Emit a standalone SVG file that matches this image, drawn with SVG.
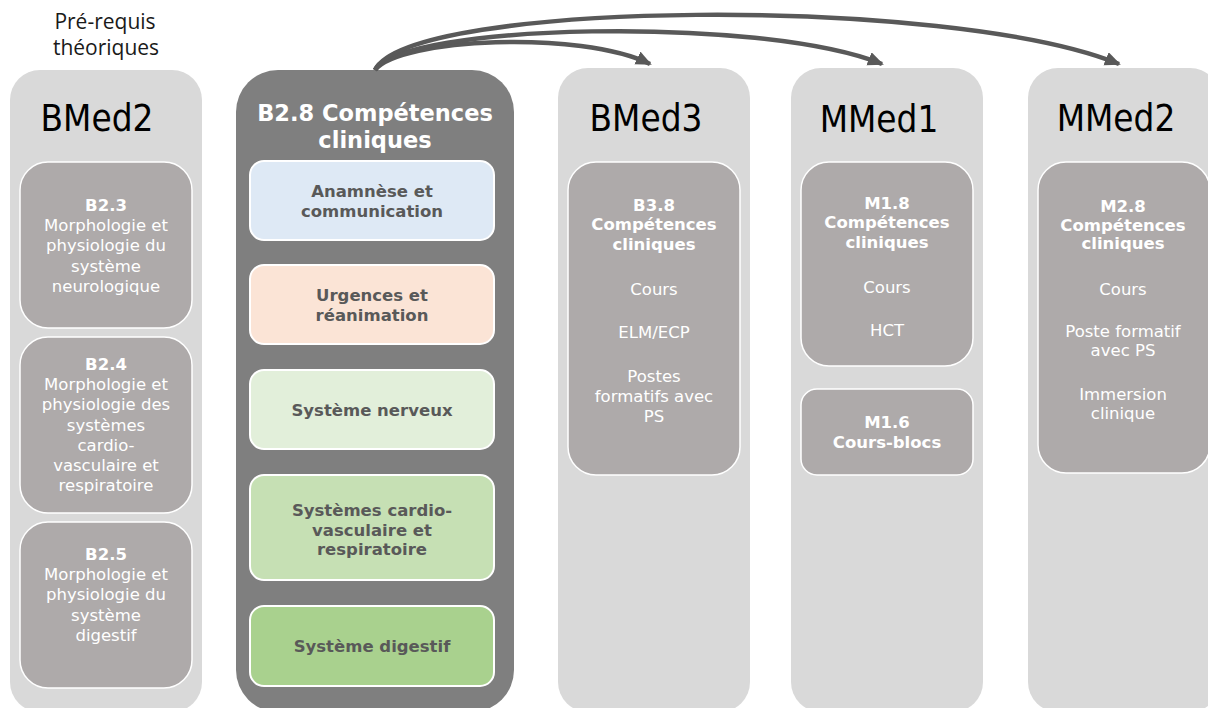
<svg xmlns="http://www.w3.org/2000/svg" width="1208" height="708" viewBox="0 0 1208 708">
<defs>
<style>
.col{fill:#d9d9d9}
.dark{fill:#7f7f7f}
.gbox{fill:#aeaaaa;stroke:#ffffff;stroke-width:1.5}
.cbox{stroke:#ffffff;stroke-width:2}
.year{font-family:"DejaVu Sans Condensed","DejaVu Sans",sans-serif;font-size:36.5px;fill:#000000;text-anchor:middle}
.pre{font-family:"Open Sans","Liberation Sans",sans-serif;font-size:21px;fill:#1a1a1a;text-anchor:middle}
.gt{font-family:"DejaVu Sans",Verdana,sans-serif;font-size:16.5px;fill:#ffffff;text-anchor:middle}
.gb{font-weight:bold}
.ct{font-family:"DejaVu Sans",Verdana,sans-serif;font-size:16.5px;font-weight:bold;fill:#595959;text-anchor:middle}
.title{font-family:"DejaVu Sans",Verdana,sans-serif;font-size:22.5px;font-weight:bold;fill:#ffffff;text-anchor:middle}
.conn{fill:none;stroke:#595959;stroke-width:4.5;marker-end:url(#ah)}
</style>
<marker id="ah" markerUnits="userSpaceOnUse" markerWidth="18" markerHeight="16" refX="14" refY="7" orient="auto">
<path d="M0,0 L16,7 L0,14 z" fill="#595959"/>
</marker>
</defs>

<g id="prerequis">
<text class="pre" x="105" y="29">Pré-requis</text>
<text class="pre" x="106" y="55">théoriques</text>
</g>

<g id="bmed2">
<rect class="col" x="10" y="70" width="192" height="642" rx="30"/>
<text class="year" x="97" y="131">BMed2</text>
</g>
<g id="b23">
<rect class="gbox" x="20" y="162" width="172" height="166" rx="28"/>
<text class="gt" x="106" y="211"><tspan class="gb">B2.3</tspan><tspan x="106" dy="20.2">Morphologie et</tspan><tspan x="106" dy="20.2">physiologie du</tspan><tspan x="106" dy="20.2">système</tspan><tspan x="106" dy="20.2">neurologique</tspan></text>
</g>
<g id="b24">
<rect class="gbox" x="20" y="337" width="172" height="176" rx="28"/>
<text class="gt" x="106" y="370"><tspan class="gb">B2.4</tspan><tspan x="106" dy="20.2">Morphologie et</tspan><tspan x="106" dy="20.2">physiologie des</tspan><tspan x="106" dy="20.2">systèmes</tspan><tspan x="106" dy="20.2">cardio-</tspan><tspan x="106" dy="20.2">vasculaire et</tspan><tspan x="106" dy="20.2">respiratoire</tspan></text>
</g>
<g id="b25">
<rect class="gbox" x="20" y="522" width="172" height="166" rx="28"/>
<text class="gt" x="106" y="560"><tspan class="gb">B2.5</tspan><tspan x="106" dy="20.2">Morphologie et</tspan><tspan x="106" dy="20.2">physiologie du</tspan><tspan x="106" dy="20.2">système</tspan><tspan x="106" dy="20.2">digestif</tspan></text>
</g>

<g id="b28">
<rect class="dark" x="236" y="70" width="278" height="642" rx="42"/>
<text class="title" x="375" y="121">B2.8 Compétences</text>
<text class="title" x="375" y="148">cliniques</text>
</g>
<g id="anamnese">
<rect class="cbox" x="250" y="161" width="244" height="79" rx="14" fill="#dee9f5"/>
<text class="ct" x="372" y="197">Anamnèse et<tspan x="372" dy="19.5">communication</tspan></text>
</g>
<g id="urgences">
<rect class="cbox" x="250" y="265" width="244" height="79" rx="14" fill="#fbe4d6"/>
<text class="ct" x="372" y="301">Urgences et<tspan x="372" dy="19.5">réanimation</tspan></text>
</g>
<g id="nerveux">
<rect class="cbox" x="250" y="370" width="244" height="79" rx="14" fill="#e2efda"/>
<text class="ct" x="372" y="416">Système nerveux</text>
</g>
<g id="cardio">
<rect class="cbox" x="250" y="475" width="244" height="105" rx="14" fill="#c6e0b4"/>
<text class="ct" x="372" y="516">Systèmes cardio-<tspan x="372" dy="19.5">vasculaire et</tspan><tspan x="372" dy="19.5">respiratoire</tspan></text>
</g>
<g id="digestif">
<rect class="cbox" x="250" y="606" width="244" height="80" rx="14" fill="#a9d18e"/>
<text class="ct" x="372" y="652">Système digestif</text>
</g>

<g id="bmed3">
<rect class="col" x="558" y="68" width="192" height="644" rx="30"/>
<text class="year" x="646" y="131">BMed3</text>
</g>
<g id="b38">
<rect class="gbox" x="568" y="162" width="172" height="313" rx="28"/>
<text class="gt" x="654" y="211"><tspan class="gb">B3.8</tspan><tspan class="gb" x="654" dy="19.3">Compétences</tspan><tspan class="gb" x="654" dy="19.3">cliniques</tspan><tspan x="654" dy="45">Cours</tspan><tspan x="654" dy="43.5">ELM/ECP</tspan><tspan x="654" dy="43.5">Postes</tspan><tspan x="654" dy="20">formatifs avec</tspan><tspan x="654" dy="20">PS</tspan></text>
</g>

<g id="mmed1">
<rect class="col" x="791" y="68" width="192" height="644" rx="30"/>
<text class="year" x="879" y="132">MMed1</text>
</g>
<g id="m18">
<rect class="gbox" x="801" y="162" width="172" height="204" rx="28"/>
<text class="gt" x="887" y="209"><tspan class="gb">M1.8</tspan><tspan class="gb" x="887" dy="19.3">Compétences</tspan><tspan class="gb" x="887" dy="19.3">cliniques</tspan><tspan x="887" dy="45">Cours</tspan><tspan x="887" dy="43.5">HCT</tspan></text>
</g>
<g id="m16">
<rect class="gbox" x="801" y="389" width="172" height="86" rx="16"/>
<text class="gt gb" x="887" y="428">M1.6<tspan x="887" dy="20">Cours-blocs</tspan></text>
</g>

<g id="mmed2">
<rect class="col" x="1028" y="68" width="192" height="644" rx="30"/>
<text class="year" x="1116" y="131">MMed2</text>
</g>
<g id="m28">
<rect class="gbox" x="1038" y="162" width="172" height="311" rx="28"/>
<text class="gt" x="1123" y="212"><tspan class="gb">M2.8</tspan><tspan class="gb" x="1123" dy="18.5">Compétences</tspan><tspan class="gb" x="1123" dy="18.5">cliniques</tspan><tspan x="1123" dy="46">Cours</tspan><tspan x="1123" dy="42">Poste formatif</tspan><tspan x="1123" dy="19">avec PS</tspan><tspan x="1123" dy="44">Immersion</tspan><tspan x="1123" dy="19">clinique</tspan></text>
</g>

<g id="connectors">
<path class="conn" d="M375,70 C400,38 580,30 650,64"/>
<path class="conn" d="M375,70 C400,24 760,15 882,64"/>
<path class="conn" d="M375,70 C410,0 950,-5 1119,64"/>
</g>
</svg>
